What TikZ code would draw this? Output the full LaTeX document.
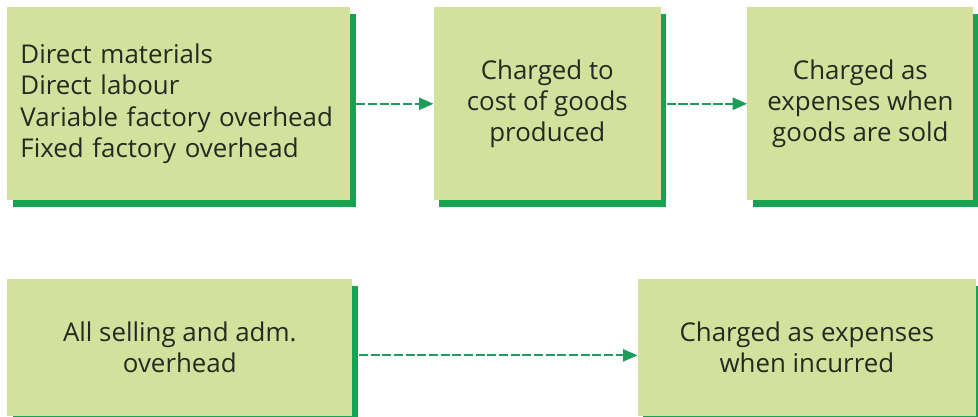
\documentclass[tikz,border=0pt]{standalone}
\usepackage{fontspec}
\setmainfont{Open Sans}
\usepackage{xcolor}
\usetikzlibrary{
  positioning,
  arrows.meta,
  shadows
}
\definecolor{boxfill}{HTML}{D2E29C}
\definecolor{boxshadow}{HTML}{17A150}
\definecolor{flowgreen}{HTML}{1E9C5C}
\definecolor{boxtext}{HTML}{262922}

\begin{document}
\begin{tikzpicture}[
      node distance=2cm,
      costbox/.style={rectangle, fill=boxfill, inner xsep=0.33cm, align=center, text=boxtext,
        font=\fontsize{18.4pt}{22.2pt}\selectfont,
        drop shadow={shadow xshift=0.14cm, shadow yshift=-0.17cm, shadow scale=1, fill=boxshadow, opacity=1}},
      arrow/.style={-{Triangle[length=0.36cm, width=0.3cm]}, flowgreen, line width=1.5pt, dash pattern=on 6.5pt off 1.8pt}
    ]
      \useasboundingbox (0,0) rectangle (24.45,-10.425);

      % Top row
      \node[costbox, anchor=north west, text width=7.915cm, minimum height=4.825cm, align=left] (inputs) at (0.175,-0.175)
        {Direct materials\\Direct labour\\Variable factory overhead\\Fixed factory overhead};
      \node[costbox, right=2.075cm of inputs, minimum width=5.675cm, minimum height=4.825cm] (produced)
        {Charged to\\cost of goods\\produced};
      \node[costbox, right=2.15cm of produced, minimum width=5.65cm, minimum height=4.825cm] (sold)
        {Charged as\\expenses when\\goods are sold};

      % Bottom row
      \node[costbox, below=1.95cm of inputs.south west, anchor=north west, minimum width=8.625cm, minimum height=3.425cm] (selling)
        {All selling and adm.\\overhead};
      \node[costbox, right=7.125cm of selling, minimum width=8.45cm, minimum height=3.425cm] (incurred)
        {Charged as expenses\\when incurred};

      % Arrows
      \draw[arrow, shorten <=0.14cm] (inputs) -- (produced);
      \draw[arrow, shorten <=0.14cm] (produced) -- (sold);
      \draw[arrow, shorten <=0.16cm] ([yshift=-0.2cm]selling.east) -- ([yshift=-0.2cm]incurred.west);
    \end{tikzpicture}
\end{document}
